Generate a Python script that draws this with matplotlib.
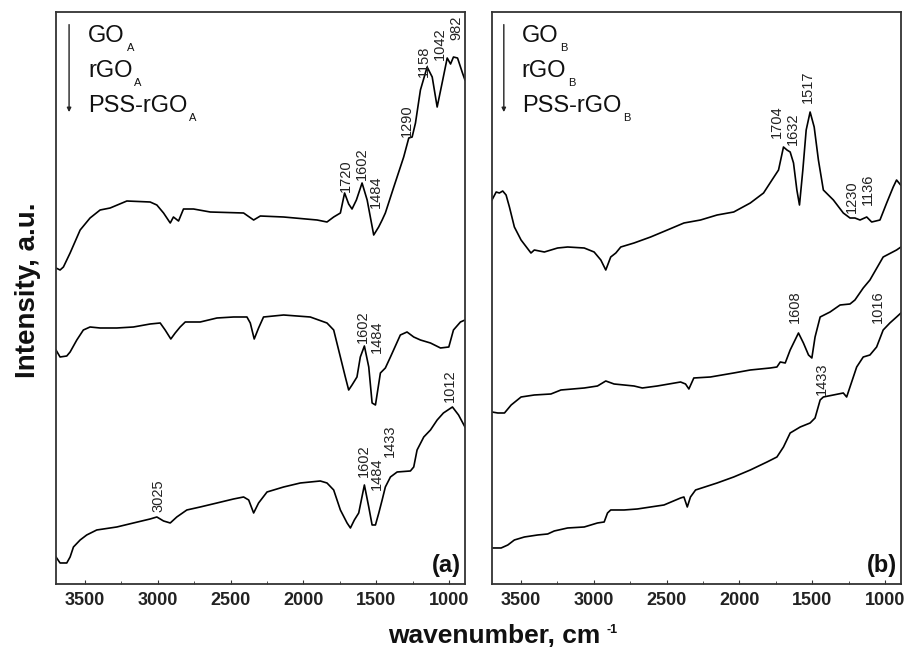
import matplotlib
matplotlib.use("Agg")
import matplotlib.pyplot as plt
from matplotlib.ticker import MultipleLocator

plt.rcParams["font.family"] = ["Liberation Sans", "DejaVu Sans"]

# ---- panel (a) spectra: wavenumber (cm-1) / intensity (a.u.) ----
GO_A_WN = [3700, 3672, 3649, 3603, 3534, 3466, 3397, 3328, 3213, 3053,
           3007, 2961, 2915, 2893, 2858, 2824, 2755, 2640, 2411, 2342,
           2296, 2136, 1906, 1838, 1792, 1746, 1717, 1689, 1666, 1636,
           1597, 1562, 1517, 1483, 1459, 1437, 1379, 1311, 1276, 1253,
           1230, 1196, 1150, 1115, 1081, 1047, 1012, 989, 969, 941,
           907, 890]
GO_A_I = [316, 314, 317, 331, 354, 366, 374, 376, 383, 382,
          379, 371, 361, 367, 363, 375, 375, 372, 371, 364,
          368, 367, 364, 362, 367, 371, 391, 380, 375, 384,
          401, 384, 349, 357, 364, 371, 397, 427, 446, 447,
          461, 494, 517, 507, 477, 501, 526, 520, 527, 526,
          511, 504]

RGO_A_WN = [3700, 3672, 3626, 3603, 3557, 3512, 3466, 3397, 3282, 3168,
            3053, 2984, 2950, 2911, 2881, 2847, 2812, 2709, 2594, 2480,
            2388, 2365, 2338, 2308, 2274, 2136, 1953, 1838, 1792, 1746,
            1712, 1689, 1666, 1632, 1609, 1581, 1551, 1528, 1505, 1471,
            1437, 1402, 1334, 1288, 1242, 1196, 1127, 1058, 1001, 969,
            921, 890]
RGO_A_I = [234, 227, 228, 232, 244, 254, 257, 256, 256, 257,
           260, 261, 254, 245, 251, 257, 262, 262, 266, 267,
           267, 261, 245, 256, 267, 269, 267, 261, 254, 227,
           207, 194, 199, 207, 227, 238, 217, 181, 179, 211,
           216, 227, 249, 252, 247, 244, 241, 236, 237, 254,
           262, 264]

PSS_A_WN = [3700, 3672, 3626, 3603, 3580, 3534, 3489, 3420, 3282, 3168,
            3053, 3007, 2961, 2915, 2870, 2801, 2709, 2594, 2480, 2411,
            2376, 2342, 2308, 2250, 2136, 2021, 1884, 1838, 1792, 1746,
            1700, 1677, 1650, 1620, 1581, 1551, 1528, 1505, 1482, 1459,
            1437, 1402, 1356, 1265, 1242, 1219, 1173, 1127, 1081, 1038,
            976, 934, 890]
PSS_A_I = [27, 21, 21, 27, 37, 44, 49, 54, 57, 61,
           65, 67, 63, 61, 67, 74, 77, 81, 85, 87,
           84, 71, 81, 92, 97, 101, 103, 101, 94, 74,
           61, 56, 64, 71, 99, 77, 59, 59, 71, 84,
           97, 107, 112, 113, 117, 134, 147, 154, 164, 171,
           177, 169, 157]

# ---- panel (b) spectra ----
GO_B_WN = [3700, 3671, 3649, 3626, 3603, 3580, 3546, 3500, 3432, 3409,
           3340, 3249, 3180, 3066, 2998, 2952, 2918, 2884, 2849, 2815,
           2724, 2610, 2495, 2381, 2267, 2153, 2039, 1925, 1834, 1776,
           1731, 1697, 1673, 1651, 1628, 1605, 1587, 1564, 1541, 1514,
           1486, 1457, 1423, 1354, 1286, 1240, 1206, 1171, 1125, 1091,
           1034, 988, 943, 920, 892]
GO_B_I = [384, 392, 391, 393, 389, 377, 357, 344, 331, 334,
          332, 336, 337, 336, 332, 324, 314, 327, 331, 337,
          341, 347, 354, 361, 364, 369, 372, 381, 391, 404,
          414, 437, 434, 432, 421, 394, 379, 414, 454, 472,
          457, 424, 394, 384, 371, 366, 366, 364, 367, 362,
          364, 381, 397, 404, 399]

RGO_B_WN = [3700, 3660, 3614, 3568, 3500, 3409, 3295, 3226, 3066, 2975,
            2918, 2861, 2724, 2667, 2564, 2404, 2370, 2347, 2313, 2199,
            2039, 1925, 1788, 1742, 1719, 1685, 1651, 1594, 1560, 1525,
            1502, 1480, 1445, 1377, 1308, 1240, 1206, 1149, 1103, 1012,
            920, 890]
RGO_B_I = [172, 171, 171, 179, 187, 189, 190, 194, 196, 198,
           203, 200, 198, 196, 198, 202, 200, 195, 206, 207,
           211, 214, 216, 217, 222, 221, 234, 251, 241, 229,
           226, 247, 267, 272, 279, 280, 284, 296, 304, 327,
           334, 337]

PSS_B_WN = [3700, 3637, 3591, 3546, 3477, 3386, 3317, 3272, 3180, 3066,
            2975, 2929, 2906, 2884, 2792, 2701, 2610, 2518, 2404, 2381,
            2358, 2336, 2301, 2153, 2039, 1925, 1810, 1742, 1697, 1651,
            1582, 1514, 1480, 1445, 1423, 1354, 1286, 1263, 1240, 1194,
            1149, 1103, 1057, 1012, 966, 920, 890]
PSS_B_I = [36, 36, 39, 44, 47, 49, 50, 53, 56, 57,
           61, 62, 71, 74, 74, 75, 77, 79, 86, 87,
           77, 87, 94, 101, 107, 114, 122, 127, 137, 151,
           157, 161, 166, 184, 187, 189, 191, 187, 197, 217,
           227, 229, 237, 254, 261, 267, 271]

# peak labels: text, wavenumber, intensity
PEAKS_A = [("1720", 1705, 392), ("1602", 1595, 404), ("1484", 1505, 376),
           ("1290", 1292, 447), ("1158", 1175, 507), ("1042", 1065, 524),
           ("982", 952, 544),
           ("1602", 1588, 241), ("1484", 1493, 231),
           ("3025", 2998, 72), ("1602", 1582, 107), ("1484", 1497, 94),
           ("1433", 1409, 127), ("1012", 997, 182)]
PEAKS_B = [("1704", 1740, 446), ("1632", 1630, 439), ("1517", 1527, 481),
           ("1230", 1226, 371), ("1136", 1116, 379),
           ("1608", 1617, 261), ("1016", 1048, 261),
           ("1433", 1432, 189)]

SAMPLES_A = ["GO", "rGO", "PSS-rGO"]
SAMPLES_B = ["GO", "rGO", "PSS-rGO"]

XTICKS = [3500, 3000, 2500, 2000, 1500, 1000]
FRAME = "#333333"


def setup(ax):
    ax.set_xlim(3700, 890)
    ax.set_ylim(0, 572)
    ax.set_yticks([])
    ax.set_xticks(XTICKS)
    ax.xaxis.set_minor_locator(MultipleLocator(250))
    ax.tick_params(axis="x", which="both", direction="in", top=False,
                   color=FRAME, labelsize=13, pad=6)
    ax.tick_params(axis="x", which="major", length=3)
    ax.tick_params(axis="x", which="minor", length=2)
    for lab in ax.get_xticklabels():
        lab.set_fontweight("bold")
        lab.set_color("#222222")
    for sp in ax.spines.values():
        sp.set_color(FRAME)
        sp.set_linewidth(1.3)


def legend_block(ax, names, sub, x_arrow, x_text):
    ax.annotate("", xy=(x_arrow, 0.825), xytext=(x_arrow, 0.978),
                xycoords="axes fraction", textcoords="axes fraction",
                arrowprops=dict(arrowstyle="-|>", lw=1.0, color="#222222",
                                mutation_scale=6, shrinkA=0, shrinkB=0))
    for k, name in enumerate(names):
        t = ax.text(x_text, 0.947 - k * 0.0612, name, transform=ax.transAxes,
                    fontsize=17, va="baseline", ha="left", color="#111111")
        ax.annotate(sub, xy=(1, 0), xycoords=t, xytext=(1.5, 3.2),
                    textcoords="offset points", ha="left", va="top",
                    fontsize=8, color="#111111")


def peak_labels(ax, peaks):
    for s, x, y in peaks:
        ax.text(x, y, s, rotation=90, ha="center", va="bottom",
                fontsize=10.5, color="#222222")


fig = plt.figure(figsize=(9.06, 6.53), dpi=100)
ax_a = fig.add_axes([0.0618, 0.1057, 0.4514, 0.8759])
ax_b = fig.add_axes([0.5430, 0.1057, 0.4514, 0.8759])

for ax in (ax_a, ax_b):
    setup(ax)

lw = 1.2
ax_a.plot(GO_A_WN, GO_A_I, color="black", lw=lw)
ax_a.plot(RGO_A_WN, RGO_A_I, color="black", lw=lw)
ax_a.plot(PSS_A_WN, PSS_A_I, color="black", lw=lw)

ax_b.plot(GO_B_WN, GO_B_I, color="black", lw=lw)
ax_b.plot(RGO_B_WN, RGO_B_I, color="black", lw=lw)
ax_b.plot(PSS_B_WN, PSS_B_I, color="black", lw=lw)

peak_labels(ax_a, PEAKS_A)
peak_labels(ax_b, PEAKS_B)

legend_block(ax_a, SAMPLES_A, "A", 0.032, 0.078)
legend_block(ax_b, SAMPLES_B, "B", 0.029, 0.073)

ax_a.text(0.99, 0.012, "(a)", transform=ax_a.transAxes, ha="right",
          va="bottom", fontsize=17, fontweight="bold", color="#111111")
ax_b.text(0.99, 0.012, "(b)", transform=ax_b.transAxes, ha="right",
          va="bottom", fontsize=17, fontweight="bold", color="#111111")

fig.text(0.031, 0.556, "Intensity, a.u.", rotation=90, ha="center",
         va="center", fontsize=20, fontweight="bold", color="#111111")
xl = fig.text(0.546, 0.016, "wavenumber, cm", ha="center", va="baseline",
              fontsize=19, fontweight="bold", color="#111111")
ax_b.annotate("-1", xy=(1, 1), xycoords=xl, xytext=(4, 0),
              textcoords="offset points", ha="left", va="top",
              fontsize=9, fontweight="bold", color="#111111",
              annotation_clip=False)

fig.savefig("out.png", dpi=100)
